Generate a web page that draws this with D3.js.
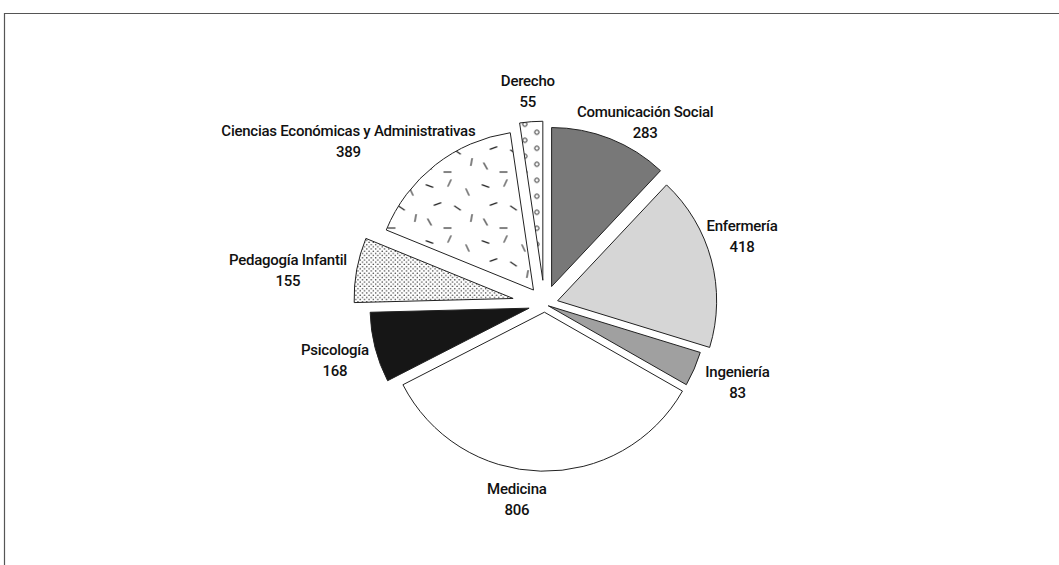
<!DOCTYPE html>
<html>
<head>
<meta charset="utf-8">
<script src="https://cdn.jsdelivr.net/npm/d3@7"></script>
<style>
  body { margin: 0; background: #fff; }
  svg text { font-family: Roboto, "Open Sans", sans-serif; font-size: 15px; font-weight: 500;
    letter-spacing: -0.25px; fill: #111; }
</style>
</head>
<body>
<script>
// Chart data (students per programme)
let carreras = ["Comunicación Social", "Enfermería", "Ingeniería", "Medicina",
  "Psicología", "Pedagogía Infantil", "Ciencias Económicas y Administrativas", "Derecho"];
let estudiantes = [283, 418, 83, 806, 168, 155, 389, 55];

// Slice styling, same order as the data
let fills = ["#787878", "#d6d6d6", "#a0a0a0", "#ffffff", "#161616",
  "url(#puntos)", "url(#guiones)", "url(#circulos)"];
let explode = [19, 13.5, 4, 8, 16, 32, 18, 24];
// label placement: angle shift (deg) from slice middle and distance from centre
let labelShift = [7.3, -4.3, -1.4, 6.8, -0.6, -2.7, -12.2, -0.3];
let labelDist = [208, 209, 208, 197, 217, 259, 255, 214];

let svgWidth = 1059;
let svgHeight = 565;
let center = { x: 544.6, y: 304.2 };
let radius = 159;

let svg = d3.select("body")
  .append("svg")
  .attr("width", svgWidth)
  .attr("height", svgHeight);

// patterns used by the white slices
let defs = svg.append("defs");

let dots = defs.append("pattern")
  .attr("id", "puntos")
  .attr("patternUnits", "userSpaceOnUse")
  .attr("width", 4.4).attr("height", 4.4);
dots.append("rect").attr("width", 4.4).attr("height", 4.4).attr("fill", "#fff");
dots.append("circle").attr("cx", 1.1).attr("cy", 1.1).attr("r", 0.75).attr("fill", "#333");
dots.append("circle").attr("cx", 3.3).attr("cy", 3.3).attr("r", 0.75).attr("fill", "#333");

let dashes = defs.append("pattern")
  .attr("id", "guiones")
  .attr("patternUnits", "userSpaceOnUse")
  .attr("width", 56).attr("height", 56);
dashes.append("rect").attr("width", 56).attr("height", 56).attr("fill", "#fff");
let dashList = [[8, 8, 20], [28, 5, 115], [46, 14, 65], [16, 26, 160], [36, 30, 35],
  [50, 40, 100], [8, 44, 60], [26, 50, 0]];
dashes.selectAll("line")
  .data(dashList)
  .enter()
  .append("line")
  .attr("x1", -4).attr("x2", 4).attr("y1", 0).attr("y2", 0)
  .attr("transform", d => `translate(${d[0]},${d[1]}) rotate(${d[2]})`)
  .attr("stroke", "#1e1e1e")
  .attr("stroke-width", 1.1);

let rings = defs.append("pattern")
  .attr("id", "circulos")
  .attr("patternUnits", "userSpaceOnUse")
  .attr("width", 24).attr("height", 16);
rings.append("rect").attr("width", 24).attr("height", 16).attr("fill", "#fff");
rings.append("circle").attr("cx", 6).attr("cy", 4).attr("r", 2.2)
  .attr("fill", "none").attr("stroke", "#2a2a2a").attr("stroke-width", 1);
rings.append("circle").attr("cx", 18).attr("cy", 12).attr("r", 2.2)
  .attr("fill", "none").attr("stroke", "#2a2a2a").attr("stroke-width", 1);

// partial frame (top and left edges)
svg.append("path")
  .attr("d", `M4.5,${svgHeight} V13.5 H${svgWidth}`)
  .attr("fill", "none")
  .attr("stroke", "#555")
  .attr("stroke-width", 1.2);

let pie = d3.pie().sort(null).value(d => d);
let arcs = pie(estudiantes);

let arc = d3.arc().innerRadius(0).outerRadius(radius);

let chartGroup = svg.append("g")
  .attr("transform", `translate(${center.x}, ${center.y})`);

chartGroup.selectAll(".slice")
  .data(arcs)
  .enter()
  .append("path")
  .classed("slice", true)
  .attr("transform", (d, i) => {
    let mid = (d.startAngle + d.endAngle) / 2;
    let p = d3.pointRadial(mid, explode[i]);
    return `translate(${p[0]}, ${p[1]})`;
  })
  .attr("d", arc)
  .attr("fill", (d, i) => fills[i])
  .attr("stroke", "#222")
  .attr("stroke-width", 1)
  .attr("stroke-linejoin", "miter");

// labels: name on the first line, value underneath
let labels = chartGroup.selectAll(".label")
  .data(arcs)
  .enter()
  .append("text")
  .classed("label", true)
  .attr("text-anchor", "middle")
  .attr("transform", (d, i) => {
    let mid = (d.startAngle + d.endAngle) / 2 + labelShift[i] * Math.PI / 180;
    let p = d3.pointRadial(mid, labelDist[i]);
    return `translate(${p[0]}, ${p[1]})`;
  });

labels.append("tspan")
  .attr("x", 0)
  .attr("y", -5)
  .text((d, i) => carreras[i]);

labels.append("tspan")
  .attr("x", 0)
  .attr("y", 16)
  .text(d => d.data);
</script>
</body>
</html>
